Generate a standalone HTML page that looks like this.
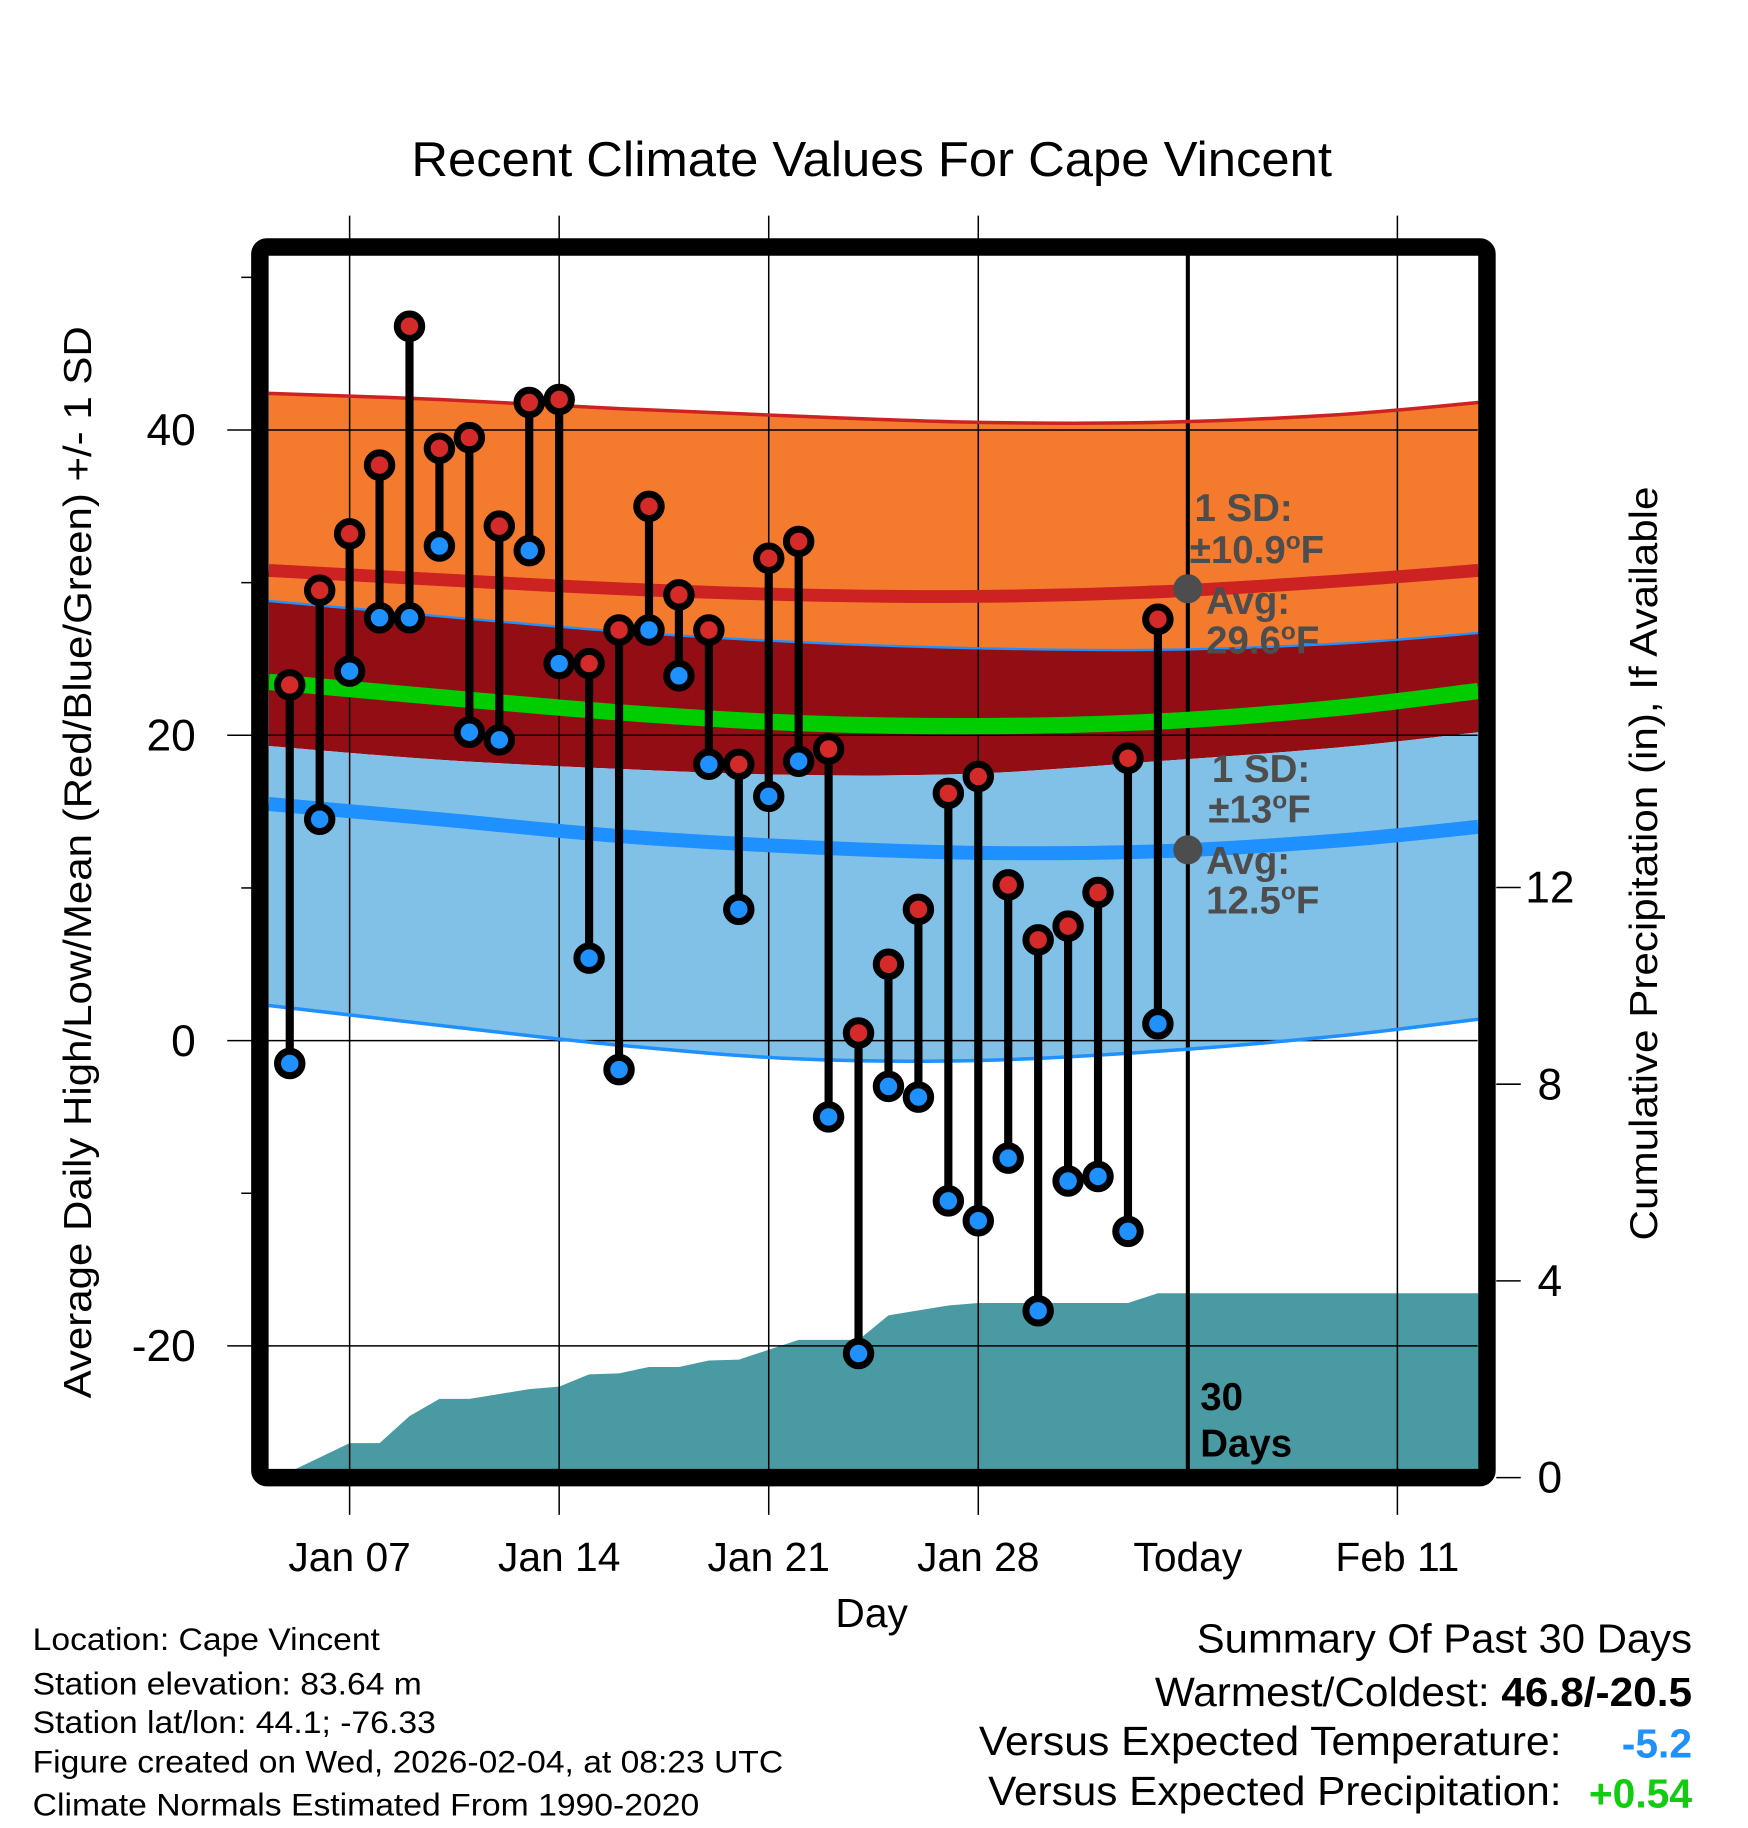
<!DOCTYPE html>
<html><head><meta charset="utf-8">
<style>
html,body{margin:0;padding:0;background:#fff;}
svg{display:block;font-family:"Liberation Sans",Arial,sans-serif;}
</style></head>
<body>
<svg id="chart" width="1748" height="1828" viewBox="0 0 1500 1568.7" xmlns="http://www.w3.org/2000/svg">
<text x="748" y="151" font-size="42" text-anchor="middle" textLength="790" lengthAdjust="spacingAndGlyphs">Recent Climate Values For Cape Vincent</text>
<g id="bands"></g>
<g id="precip"></g>
<g id="grid"></g>
<g id="lines"></g>
<g id="marks"></g>
<g id="annot" font-weight="bold" font-size="33" fill="#4d4d4d">
  <text x="1025" y="447">1 SD:</text>
  <text x="1021" y="483">±10.9<tspan font-size="21" dy="-12">o</tspan><tspan dy="12">F</tspan></text>
  <text x="1035" y="527">Avg:</text>
  <text x="1035" y="561">29.6<tspan font-size="21" dy="-12">o</tspan><tspan dy="12">F</tspan></text>
  <text x="1040" y="671">1 SD:</text>
  <text x="1037" y="706">±13<tspan font-size="21" dy="-12">o</tspan><tspan dy="12">F</tspan></text>
  <text x="1035" y="750">Avg:</text>
  <text x="1035" y="784">12.5<tspan font-size="21" dy="-12">o</tspan><tspan dy="12">F</tspan></text>
  <text x="1030" y="1210" fill="#000">30</text>
  <text x="1030" y="1250" fill="#000">Days</text>
</g>
<rect x="223" y="212" width="1053" height="1056" rx="6" fill="none" stroke="#000" stroke-width="15"/>
<g id="axes"></g>
<text transform="translate(78,740) rotate(-90)" font-size="33" text-anchor="middle" textLength="920" lengthAdjust="spacingAndGlyphs">Average Daily High/Low/Mean (Red/Blue/Green) +/- 1 SD</text>
<text transform="translate(1422,741) rotate(-90)" font-size="33" text-anchor="middle" textLength="647" lengthAdjust="spacingAndGlyphs">Cumulative Precipitation (in), If Available</text>
<text x="748" y="1396" font-size="35" text-anchor="middle">Day</text>
<g font-size="27">
  <text x="28" y="1416" textLength="298" lengthAdjust="spacingAndGlyphs">Location: Cape Vincent</text>
  <text x="28" y="1454" textLength="334" lengthAdjust="spacingAndGlyphs">Station elevation: 83.64 m</text>
  <text x="28" y="1487" textLength="346" lengthAdjust="spacingAndGlyphs">Station lat/lon: 44.1; -76.33</text>
  <text x="28" y="1521" textLength="644" lengthAdjust="spacingAndGlyphs">Figure created on Wed, 2026-02-04, at 08:23 UTC</text>
  <text x="28" y="1558" textLength="572" lengthAdjust="spacingAndGlyphs">Climate Normals Estimated From 1990-2020</text>
</g>
<g font-size="35">
  <text x="1027" y="1418" textLength="425" lengthAdjust="spacingAndGlyphs">Summary Of Past 30 Days</text>
  <text x="991" y="1464" textLength="461" lengthAdjust="spacingAndGlyphs">Warmest/Coldest: <tspan font-weight="bold">46.8/-20.5</tspan></text>
  <text x="840" y="1506" textLength="500" lengthAdjust="spacingAndGlyphs">Versus Expected Temperature:</text>
  <text x="1452" y="1508" font-weight="bold" fill="#1e90ff" text-anchor="end">-5.2</text>
  <text x="848" y="1549" textLength="492" lengthAdjust="spacingAndGlyphs">Versus Expected Precipitation:</text>
  <text x="1452" y="1551" font-weight="bold" fill="#11cc11" text-anchor="end">+0.54</text>
</g>
</svg>
<script>
// day-of-year (Jan 1 = 1)
const days = [5,6,7,8,9,10,11,12,13,14,15,16,17,18,19,20,21,22,23,24,25,26,27,28,29,30,31,32,33,34];
const highs = [23.3,29.5,33.2,37.7,46.8,38.8,39.5,33.7,41.8,42.0,24.7,26.9,35.0,29.2,26.9,18.1,31.6,32.7,19.1,0.5,5.0,8.6,16.2,17.3,10.2,6.6,7.5,9.7,18.5,27.6];
const lows = [-1.5,14.5,24.2,27.7,27.7,32.4,20.2,19.7,32.1,24.7,5.4,-1.9,26.9,23.9,18.1,8.6,16.0,18.3,-5.0,-20.5,-3.0,-3.7,-10.5,-11.8,-7.7,-17.7,-9.2,-8.9,-12.5,1.1];
const normDays = [4.3,10,16,22,28,34,40,44.7];
const highPlus = [42.4,42.0,41.4,40.9,40.5,40.5,41.0,41.8];
const highMean = [30.8,30.2,29.6,29.2,29.1,29.4,30.1,30.8];
const highMinus = [19.3,18.4,17.8,17.4,17.5,18.3,19.2,20.2];
const lowPlus = [28.8,27.8,26.8,26.1,25.7,25.6,26.0,26.7];
const lowMean = [15.5,14.5,13.4,12.7,12.3,12.4,13.1,14.0];
const lowMinus = [2.3,1.0,-0.3,-1.2,-1.3,-0.7,0.3,1.4];
const avgMean = [23.5,22.5,21.5,20.8,20.6,20.9,21.8,22.9];
const precipDays = [4.6,7,8,9,10,11,12,13,14,15,16,17,18,19,20,21,22,23,24,25,26,27,28,29,30,31,32,33,34,44.7];
const precipVals = [0.0,0.7,0.7,1.25,1.6,1.6,1.7,1.8,1.85,2.1,2.12,2.25,2.25,2.38,2.4,2.6,2.8,2.8,2.8,3.3,3.4,3.5,3.55,3.55,3.55,3.55,3.55,3.55,3.75,3.75];
const xTickDays = [7,14,21,28,35,42];
const xTickLabels = ["Jan 07","Jan 14","Jan 21","Jan 28","Today","Feb 11"];
const yTicks = [40,20,0,-20];
const yMinorTicks = [50,30,10,-10];
const pTicks = [0,4,8,12];

const NS="http://www.w3.org/2000/svg";
const X = d => 300 + (d-7)*25.69;
const Y = t => 893 - t*13.1;
const P = p => 1268 - p*42.2;
function mk(tag, parent, attrs){const e=document.createElementNS(NS,tag);for(const k in attrs)e.setAttribute(k,attrs[k]);parent.appendChild(e);return e;}
function smooth(ds, vs, yf){
  const pts = ds.map((d,i)=>[X(d),yf(vs[i])]);
  let s = "M"+pts[0][0]+","+pts[0][1];
  for(let i=0;i<pts.length-1;i++){
    const p0=pts[Math.max(0,i-1)],p1=pts[i],p2=pts[i+1],p3=pts[Math.min(pts.length-1,i+2)];
    const c1=[p1[0]+(p2[0]-p0[0])/6,p1[1]+(p2[1]-p0[1])/6];
    const c2=[p2[0]-(p3[0]-p1[0])/6,p2[1]-(p3[1]-p1[1])/6];
    s+=" C"+c1.join(",")+" "+c2.join(",")+" "+p2.join(",");
  }
  return s;
}
function revPath(ds, vs, yf){
  const ds2=[...ds].reverse(), vs2=[...vs].reverse();
  return smooth(ds2,vs2,yf).replace(/^M/,"L");
}
function band(top,bot,fill,name){
  const e=mk("path",document.getElementById("bands"),{d:smooth(normDays,top,Y)+" "+revPath(normDays,bot,Y)+" Z",fill:fill});
  
  
}
band(highPlus,lowPlus,"#f47a2d","orange-band");
band(lowPlus,highMinus,"#930d15","overlap-band");
band(highMinus,lowMinus,"#82c1e7","blue-band");

const pg=document.getElementById("precip");
let pd="M"+X(precipDays[0])+","+P(0);
precipDays.forEach((d,i)=>{pd+=" L"+X(d)+","+P(precipVals[i]);});
pd+=" L"+X(precipDays[precipDays.length-1])+",1261 L"+X(precipDays[0])+",1261 Z";
const pa=mk("path",pg,{d:pd,fill:"#4a9aa4"});



const gg=document.getElementById("grid");
xTickDays.forEach((d,i)=>{
  const l=mk("line",gg,{x1:X(d),x2:X(d),y1:185,y2:1300,stroke:"#000","stroke-width":i==4?3.5:1.3});
  if(i==4){l.setAttribute("y1",215);l.setAttribute("y2",1262);}
  
  
});
yTicks.forEach(t=>{
  const l=mk("line",gg,{x1:195,x2:1268,y1:Y(t),y2:Y(t),stroke:"#000","stroke-width":1.3});
  
  
});

const lg=document.getElementById("lines");
function nline(vs,color,w,name){
  const e=mk("path",lg,{d:smooth(normDays,vs,Y),fill:"none",stroke:color,"stroke-width":w});
  
  
}
nline(highPlus,"#cc2222",3,"high-plus-sd-line");
nline(lowPlus,"#1e90ff",2,"low-plus-sd-line");
nline(lowMinus,"#1e90ff",3,"low-minus-sd-line");
nline(highMean,"#cc2222",11,"normal-high-line");
nline(lowMean,"#1e90ff",12,"normal-low-line");
nline(avgMean,"#00cc00",14,"normal-mean-line");
const tdm1=mk("circle",lg,{cx:X(35),cy:Y(29.6),r:12.5,fill:"#4d4d4d"});


const tdm2=mk("circle",lg,{cx:X(35),cy:Y(12.5),r:12.5,fill:"#4d4d4d"});



const mg=document.getElementById("marks");
days.forEach((d,i)=>{
  const s=mk("line",mg,{x1:X(d),x2:X(d),y1:Y(highs[i]),y2:Y(lows[i]),stroke:"#000","stroke-width":7});
  
  
});
days.forEach((d,i)=>{
  const h=mk("circle",mg,{cx:X(d),cy:Y(highs[i]),r:10.5,fill:"#d42a2a",stroke:"#000","stroke-width":6});
  
  
  const l=mk("circle",mg,{cx:X(d),cy:Y(lows[i]),r:10.5,fill:"#1e90ff",stroke:"#000","stroke-width":6});
  
  
});

const ag=document.getElementById("axes");
yTicks.forEach(t=>{
  const tx=mk("text",ag,{x:168,y:Y(t)+13,"font-size":38,"text-anchor":"end"});
  tx.textContent=t;
  
  
});
yMinorTicks.forEach(t=>{
  const l=mk("line",ag,{x1:207,x2:216,y1:Y(t),y2:Y(t),stroke:"#000","stroke-width":1.3});
  
  
});
pTicks.forEach(p=>{
  const l=mk("line",ag,{x1:1284,x2:1305,y1:P(p),y2:P(p),stroke:"#000","stroke-width":1.3});
  
  
  const tx=mk("text",ag,{x:1330,y:P(p)+13,"font-size":38,"text-anchor":"middle"});
  tx.textContent=p;
  
  
});
xTickDays.forEach((d,i)=>{
  const tx=mk("text",ag,{x:X(d),y:1348,"font-size":35,"text-anchor":"middle"});
  tx.textContent=xTickLabels[i];
  
  
});
</script>
</body></html>
